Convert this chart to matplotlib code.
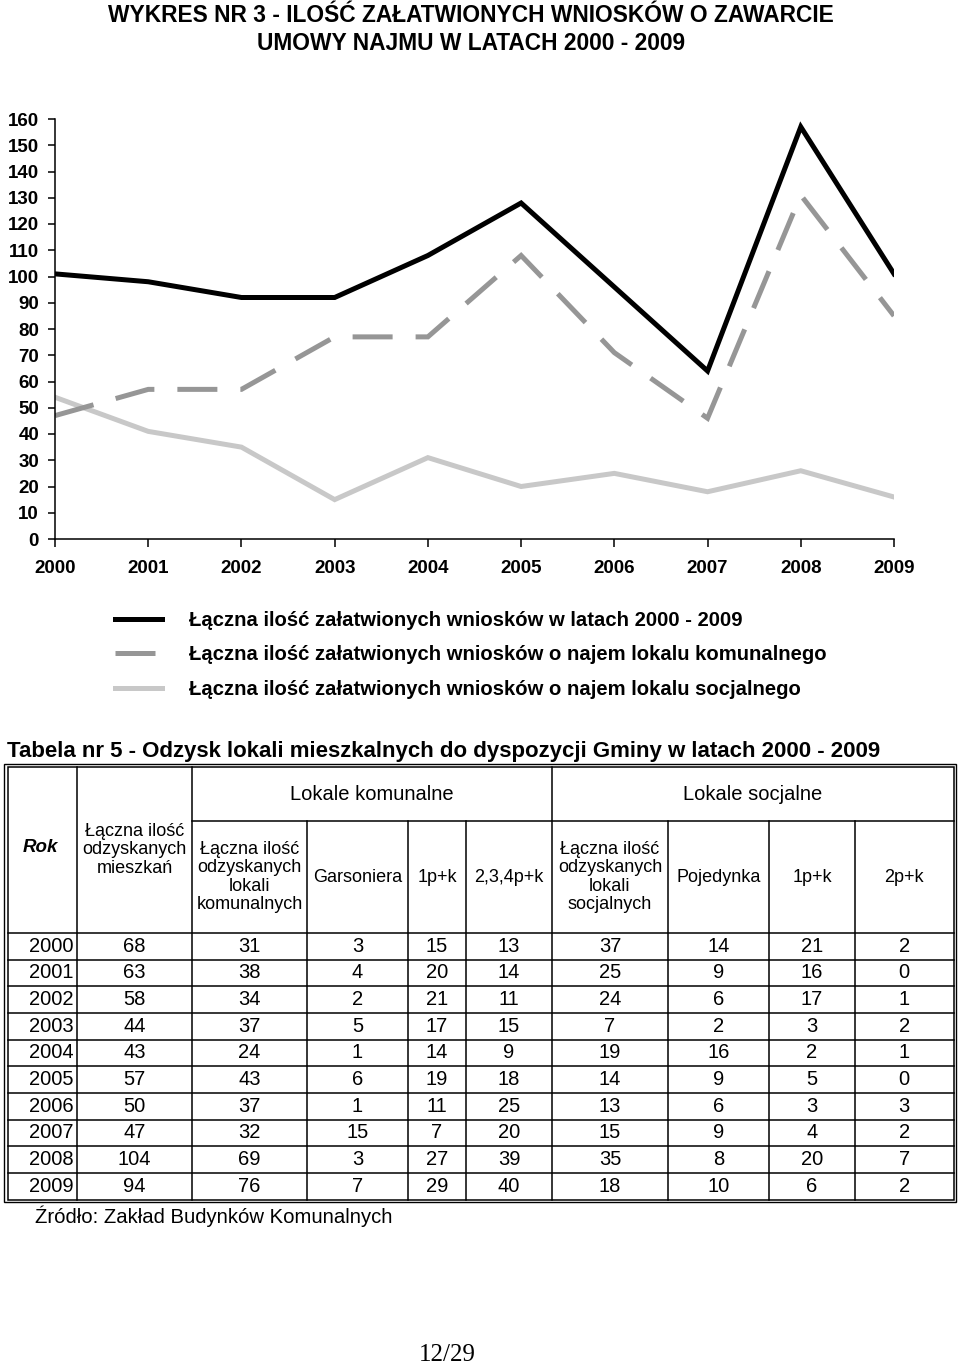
import numpy as np
import matplotlib
matplotlib.use('Agg')
import matplotlib.pyplot as plt
from matplotlib.lines import Line2D
from matplotlib.patches import Rectangle

plt.rcParams['font.family'] = ['Liberation Sans', 'DejaVu Sans']

# chart data
years = [2000, 2001, 2002, 2003, 2004, 2005, 2006, 2007, 2008, 2009]
total = [101, 98, 92, 92, 108, 128, 96, 64, 157, 101]
komunalne = [47, 57, 57, 77, 77, 108, 71, 46, 131, 85]
socjalne = [54, 41, 35, 15, 31, 20, 25, 18, 26, 16]
series_labels = ['Łączna ilość załatwionych wniosków w latach 2000 - 2009',
                 'Łączna ilość załatwionych wniosków o najem lokalu komunalnego',
                 'Łączna ilość załatwionych wniosków o najem lokalu socjalnego']

# table data
tab_rok = ['2000', '2001', '2002', '2003', '2004', '2005', '2006', '2007', '2008', '2009']
tab_mieszkan = [68, 63, 58, 44, 43, 57, 50, 47, 104, 94]
tab_kom_total = [31, 38, 34, 37, 24, 43, 37, 32, 69, 76]
tab_garsoniera = [3, 4, 2, 5, 1, 6, 1, 15, 3, 7]
tab_kom_1pk = [15, 20, 21, 17, 14, 19, 11, 7, 27, 29]
tab_kom_234 = [13, 14, 11, 15, 9, 18, 25, 20, 39, 40]
tab_soc_total = [37, 25, 24, 7, 19, 14, 13, 15, 35, 18]
tab_pojedynka = [14, 9, 6, 2, 16, 9, 6, 9, 8, 10]
tab_soc_1pk = [21, 16, 17, 3, 2, 5, 3, 4, 20, 6]
tab_soc_2pk = [2, 0, 1, 2, 1, 0, 3, 2, 7, 2]
sub_headers = ['Łączna ilość\nodzyskanych\nlokali\nkomunalnych', 'Garsoniera', '1p+k', '2,3,4p+k',
               'Łączna ilość\nodzyskanych\nlokali\nsocjalnych', 'Pojedynka', '1p+k', '2p+k']

W, H = 960, 1366
fig = plt.figure(figsize=(W / 100, H / 100), dpi=100)
fig.patch.set_facecolor('white')

# page overlay in pixel coords
page = fig.add_axes([0, 0, 1, 1])
page.set_xlim(0, W)
page.set_ylim(H, 0)
page.axis('off')

page.text(471, 15, 'WYKRES NR 3 - ILOŚĆ ZAŁATWIONYCH WNIOSKÓW O ZAWARCIE',
          ha='center', va='center', fontsize=16.4, fontweight='bold')
page.text(471, 44, 'UMOWY NAJMU W LATACH 2000 - 2009',
          ha='center', va='center', fontsize=16.4, fontweight='bold')

# ---- line chart ----
ax = fig.add_axes([55 / W, 1 - 539 / H, (894 - 55) / W, (539 - 119) / H])
ax.plot(years, total, color='black', lw=3.6, solid_joinstyle='miter', zorder=3)
ax.plot(years, komunalne, color='#969696', lw=3.6, dashes=(8, 4.6),
        dash_capstyle='butt', dash_joinstyle='miter', zorder=2)
ax.plot(years, socjalne, color='#c8c8c8', lw=3.6, solid_joinstyle='miter', zorder=1)

ax.set_xlim(2000, 2009)
ax.set_ylim(0, 160)
ax.set_yticks(range(0, 161, 10))
ax.set_xticks(years)
ax.spines['top'].set_visible(False)
ax.spines['right'].set_visible(False)
ax.spines['left'].set_linewidth(1.1)
ax.spines['bottom'].set_linewidth(1.1)
ax.tick_params(axis='y', length=5, width=1.1, pad=6.5, labelsize=13.5)
ax.tick_params(axis='x', length=6, width=1.1, pad=9, labelsize=13.5)
for lab in ax.get_xticklabels() + ax.get_yticklabels():
    lab.set_fontweight('bold')

handles = [Line2D([], [], color='black', lw=3.6),
           Line2D([], [], color='#969696', lw=3.6, dashes=(8, 4.6), dash_capstyle='butt'),
           Line2D([], [], color='#c8c8c8', lw=3.6)]
leg = fig.legend(handles, series_labels, loc='upper left',
                 bbox_to_anchor=(115 / W, 1 - 611 / H), frameon=False,
                 borderpad=0, borderaxespad=0, handlelength=2.3, handletextpad=1.37,
                 labelspacing=0.76, prop={'size': 14.6, 'weight': 'bold'})

# ---- table ----
page.text(7, 752, 'Tabela nr 5 - Odzysk lokali mieszkalnych do dyspozycji Gminy w latach 2000 - 2009',
          ha='left', va='center', fontsize=16, fontweight='bold')

top, mid, hdr_bot, bot = 767, 821, 933, 1199.5
left, right = 7.5, 953.5
cols = [left, 77, 192, 307, 408, 466, 552, 668, 769, 855, right]
row_h = (bot - hdr_bot) / len(tab_rok)
lw = 1.1

page.add_patch(Rectangle((4, 764), 953.5 - 1.5, 1202 - 764, fill=False, lw=1.0, ec='black'))
page.add_patch(Rectangle((left, top), right - left, bot - top, fill=False, lw=lw, ec='black'))
for x in [cols[1], cols[2], cols[6]]:
    page.plot([x, x], [top, bot], color='black', lw=lw)
for x in [cols[3], cols[4], cols[5], cols[7], cols[8], cols[9]]:
    page.plot([x, x], [mid, bot], color='black', lw=lw)
page.plot([cols[2], right], [mid, mid], color='black', lw=lw)
for i in range(len(tab_rok)):
    y = hdr_bot + i * row_h
    page.plot([left, right], [y, y], color='black', lw=lw)

hfs = 13
page.text((cols[0] + cols[1]) / 2 - 2, 847, 'Rok', ha='center', va='center',
          fontsize=13.5, fontweight='bold', fontstyle='italic')
page.text((cols[1] + cols[2]) / 2, 850, 'Łączna ilość\nodzyskanych\nmieszkań',
          ha='center', va='center', fontsize=hfs, linespacing=1.1)
page.text((cols[2] + cols[6]) / 2, (top + mid) / 2, 'Lokale komunalne',
          ha='center', va='center', fontsize=14.5)
page.text((cols[6] + cols[10]) / 2, (top + mid) / 2, 'Lokale socjalne',
          ha='center', va='center', fontsize=14.5)
for j, txt in enumerate(sub_headers):
    cx = (cols[j + 2] + cols[j + 3]) / 2
    page.text(cx, (mid + hdr_bot) / 2, txt, ha='center', va='center',
              fontsize=hfs, linespacing=1.1)

value_cols = [tab_mieszkan, tab_kom_total, tab_garsoniera, tab_kom_1pk, tab_kom_234,
              tab_soc_total, tab_pojedynka, tab_soc_1pk, tab_soc_2pk]
dfs = 14.5
for i, rok in enumerate(tab_rok):
    cy = hdr_bot + (i + 0.5) * row_h
    page.text(cols[1] - 3, cy, rok, ha='right', va='center', fontsize=dfs)
    for j, vals in enumerate(value_cols):
        cx = (cols[j + 1] + cols[j + 2]) / 2
        page.text(cx, cy, str(vals[i]), ha='center', va='center', fontsize=dfs)

page.text(35, 1216, 'Źródło: Zakład Budynków Komunalnych', ha='left', va='center', fontsize=14.6)
page.text(447, 1355, '12/29', ha='center', va='center', fontsize=18,
          family=['Liberation Serif', 'DejaVu Serif'])

fig.savefig('out.png', dpi=100, facecolor='white')
